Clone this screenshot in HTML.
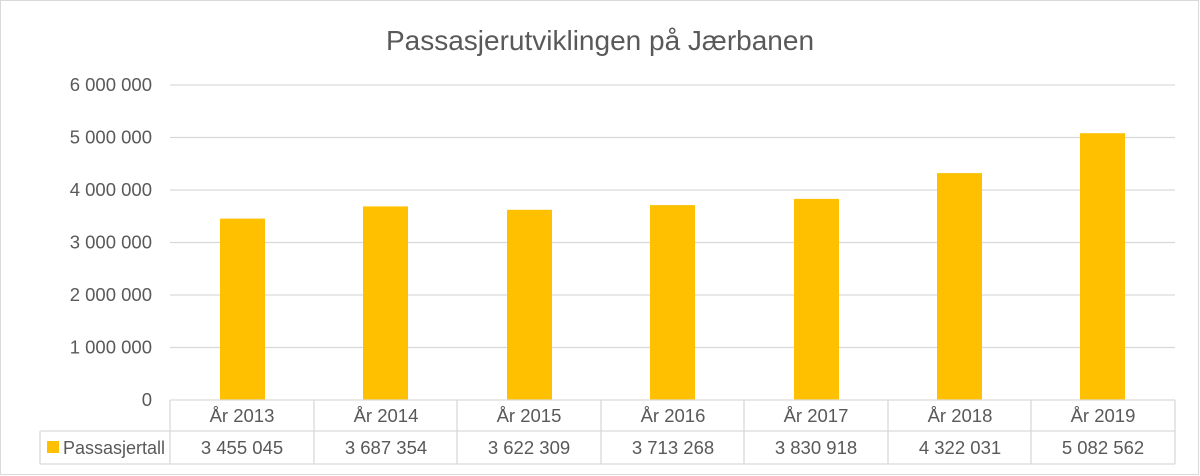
<!DOCTYPE html>
<html><head><meta charset="utf-8"><style>
body{margin:0;background:#fff}
svg{display:block;font-family:"Liberation Sans",sans-serif}
</style></head><body>
<svg width="1200" height="476" viewBox="0 0 1200 476">
<rect x="0.5" y="0.5" width="1198" height="474" fill="#fff" stroke="#d9d9d9"/>
<text x="600" y="50" text-anchor="middle" font-size="28" fill="#595959">Passasjerutviklingen på Jærbanen</text>
<g stroke="#d9d9d9" stroke-width="1.3">
<line x1="170" x2="1175" y1="85" y2="85"/>
<line x1="170" x2="1175" y1="137.5" y2="137.5"/>
<line x1="170" x2="1175" y1="190" y2="190"/>
<line x1="170" x2="1175" y1="242.5" y2="242.5"/>
<line x1="170" x2="1175" y1="295" y2="295"/>
<line x1="170" x2="1175" y1="347.5" y2="347.5"/>
</g>
<g font-size="18.5" fill="#595959" text-anchor="end">
<text x="152" y="91">6 000 000</text>
<text x="152" y="143.5">5 000 000</text>
<text x="152" y="196">4 000 000</text>
<text x="152" y="248.5">3 000 000</text>
<text x="152" y="301">2 000 000</text>
<text x="152" y="353.5">1 000 000</text>
<text x="152" y="406">0</text>
</g>
<g fill="#ffc000">
<rect x="220" y="218.6" width="45" height="181.4"/>
<rect x="363" y="206.4" width="45" height="193.6"/>
<rect x="507" y="209.8" width="45" height="190.2"/>
<rect x="650" y="205.1" width="45" height="194.9"/>
<rect x="794" y="198.9" width="45" height="201.1"/>
<rect x="937" y="173.1" width="45" height="226.9"/>
<rect x="1080" y="133.2" width="45" height="266.8"/>
</g>
<g stroke="#d9d9d9" stroke-width="1.3" fill="none">
<line x1="170" x2="1175" y1="400" y2="400"/>
<line x1="40" x2="1175" y1="431" y2="431"/>
<line x1="40" x2="1175" y1="464" y2="464"/>
<line x1="40" x2="40" y1="431" y2="464"/>
<line x1="170" x2="170" y1="400" y2="464"/>
<line x1="314" x2="314" y1="400" y2="464"/>
<line x1="457" x2="457" y1="400" y2="464"/>
<line x1="601" x2="601" y1="400" y2="464"/>
<line x1="744" x2="744" y1="400" y2="464"/>
<line x1="888" x2="888" y1="400" y2="464"/>
<line x1="1031" x2="1031" y1="400" y2="464"/>
<line x1="1175" x2="1175" y1="400" y2="464"/>
</g>
<rect x="47" y="441" width="12" height="12" fill="#ffc000"/>
<text x="63" y="454" font-size="18" fill="#595959">Passasjertall</text>
<g font-size="18.5" fill="#595959" text-anchor="middle">
<text x="242" y="422">År 2013</text><text x="242" y="454">3 455 045</text>
<text x="386" y="422">År 2014</text><text x="386" y="454">3 687 354</text>
<text x="529" y="422">År 2015</text><text x="529" y="454">3 622 309</text>
<text x="673" y="422">År 2016</text><text x="673" y="454">3 713 268</text>
<text x="816" y="422">År 2017</text><text x="816" y="454">3 830 918</text>
<text x="960" y="422">År 2018</text><text x="960" y="454">4 322 031</text>
<text x="1103" y="422">År 2019</text><text x="1103" y="454">5 082 562</text>
</g>
</svg>
</body></html>
